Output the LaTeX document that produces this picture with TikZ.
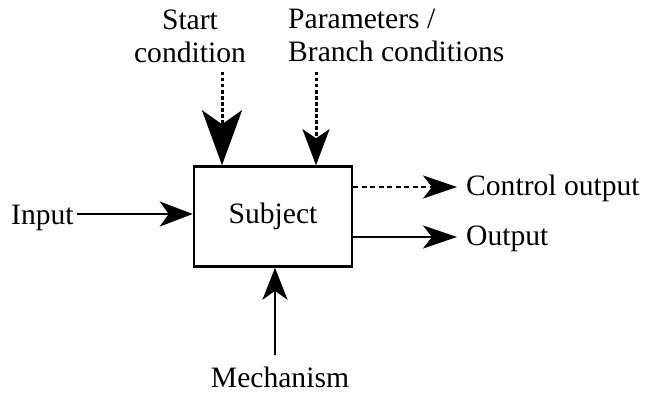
\documentclass[tikz,border=0pt]{standalone}
\usepackage{fontspec}
\setmainfont{Liberation Serif}
\usetikzlibrary{arrows.meta}
\begin{document}
\begin{tikzpicture}[x=1pt,y=-1pt,
  lbl/.style={inner sep=0pt, font=\fontsize{29.6}{33}\selectfont},
  box/.style={draw, line width=2.5pt, minimum width=158pt, minimum height=100pt, inner sep=0pt, font=\fontsize{29.6}{33}\selectfont},
  ln/.style={line width=2.6pt},
  dotln/.style={line width=3pt, dash pattern=on 3.5pt off 2.5pt},
  dashln/.style={line width=2.4pt, dash pattern=on 5pt off 3.5pt},
  bighead/.style={-{Stealth[length=55pt,width=40pt,inset=14pt]}},
  parhead/.style={-{Stealth[length=36pt,width=27pt,inset=9pt]}},
  inhead/.style={-{Stealth[length=33pt,width=25pt,inset=9pt]}},
  mechhead/.style={-{Stealth[length=32pt,width=25pt,inset=9pt]}},
  outhead/.style={-{Stealth[length=34pt,width=23pt,inset=9pt]}},
]
\useasboundingbox (0,0) rectangle (648,396);

\node[box] (s) at (273,216.5) {Subject};

\node[lbl, align=center, anchor=north] (sc) at (190,9.5) {Start\\condition};
\node[lbl, align=left, anchor=north west] (pc) at (288,9) {Parameters /\\Branch conditions};
\node[lbl, anchor=base west] (in) at (11,224) {Input};
\node[lbl, anchor=base west] (co) at (466,195) {Control output};
\node[lbl, anchor=base west] (out) at (466,245) {Output};
\node[lbl, anchor=base] (me) at (280,387) {Mechanism};

\coordinate (scS) at (222,72);
\coordinate (pcS) at (316,72);
\coordinate (inE) at (77,214);
\coordinate (coE) at (457,187);
\coordinate (outE) at (457,237);
\coordinate (meN) at (275,355);

\draw[dotln, bighead] (scS) -- (scS |- s.north);
\draw[dotln, parhead] (pcS) -- (pcS |- s.north);
\draw[ln, inhead] (inE) -- (inE -| s.west);
\draw[dashln, outhead] (coE -| s.east) -- (coE);
\draw[ln, outhead] (outE -| s.east) -- (outE);
\draw[ln, mechhead] (meN) -- (meN |- s.south);
\end{tikzpicture}
\end{document}
